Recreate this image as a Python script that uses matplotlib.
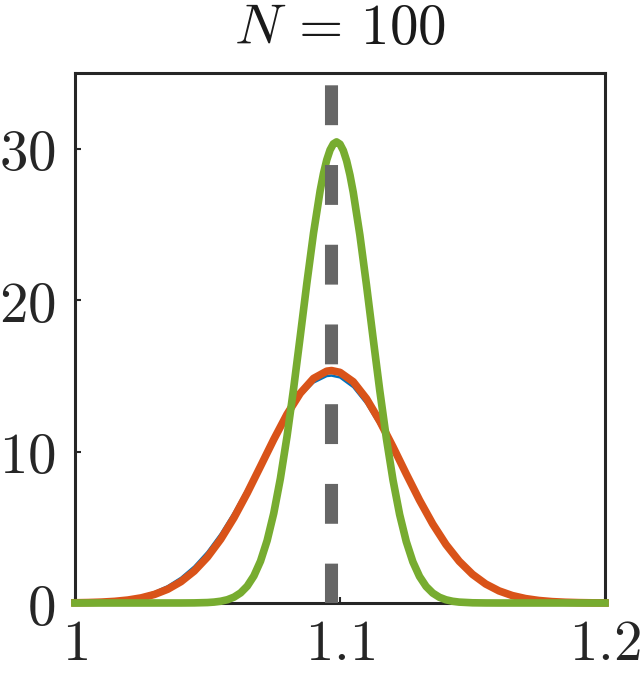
import numpy as np
import matplotlib
matplotlib.use('Agg')
import matplotlib.pyplot as plt

plt.rcParams['mathtext.fontset'] = 'cm'
plt.rcParams['lines.scale_dashes'] = False

# 数据：三条密度曲线
x_grid = [1.000, 1.005, 1.010, 1.015, 1.020, 1.025, 1.030, 1.035, 1.040, 1.045,
          1.050, 1.055, 1.060, 1.065, 1.070, 1.075, 1.080, 1.085, 1.090, 1.095,
          1.0968, 1.100, 1.105, 1.110, 1.115, 1.120, 1.125, 1.130, 1.135, 1.140,
          1.145, 1.150, 1.155, 1.160, 1.165, 1.170, 1.175, 1.180, 1.185, 1.190,
          1.195, 1.200]
blue_vals = [0.025, 0.048, 0.088, 0.156, 0.268, 0.446, 0.715, 1.108, 1.660, 2.405,
             3.368, 4.560, 5.969, 7.551, 9.230, 10.89, 12.42, 13.68, 14.56, 14.99,
             15.02, 14.90, 14.26, 13.17, 11.73, 10.09, 8.372, 6.705, 5.181, 3.863,
             2.781, 1.931, 1.294, 0.837, 0.522, 0.315, 0.183, 0.103, 0.056, 0.029,
             0.015, 0.007]
orange_vals = [0.015, 0.030, 0.058, 0.109, 0.196, 0.339, 0.566, 0.910, 1.412, 2.109,
               3.038, 4.215, 5.637, 7.265, 9.026, 10.80, 12.46, 13.85, 14.83, 15.31,
               15.35, 15.23, 14.61, 13.49, 12.01, 10.31, 8.524, 6.792, 5.216, 3.860,
               2.754, 1.893, 1.253, 0.800, 0.492, 0.292, 0.167, 0.092, 0.049, 0.025,
               0.012, 0.006]

x_green = [1.000, 1.020, 1.040, 1.045, 1.050, 1.0525, 1.055, 1.0575, 1.060, 1.0625,
           1.065, 1.0675, 1.070, 1.0725, 1.075, 1.0775, 1.080, 1.0825, 1.085, 1.0875,
           1.090, 1.0925, 1.09375, 1.095, 1.09625, 1.0975, 1.0987, 1.100, 1.10125,
           1.1025, 1.10375, 1.105, 1.1075, 1.110, 1.1125, 1.115, 1.1175, 1.120,
           1.1225, 1.125, 1.1275, 1.130, 1.1325, 1.135, 1.1375, 1.140, 1.1425, 1.145,
           1.150, 1.155, 1.160, 1.180, 1.200]
green_vals = [0.0, 0.0, 0.001, 0.007, 0.030, 0.061, 0.117, 0.216, 0.388, 0.669,
              1.113, 1.786, 2.762, 4.121, 5.926, 8.219, 10.99, 14.17, 17.62, 21.13,
              24.42, 27.22, 28.35, 29.26, 29.92, 30.32, 30.45, 30.30, 29.88,
              29.20, 28.27, 27.12, 24.30, 20.99, 17.48, 14.04, 10.87, 8.118,
              5.846, 4.059, 2.716, 1.754, 1.091, 0.655, 0.379, 0.211, 0.114, 0.059,
              0.014, 0.003, 0.0, 0.0, 0.0]

x_true = 1.0966   # 虚线位置
x_ticks = [1.0, 1.1, 1.2]
x_ticklabels = ['$1$', '$1.1$', '$1.2$']
y_ticks = [0, 10, 20, 30]
y_ticklabels = ['$0$', '$10$', '$20$', '$30$']

fig = plt.figure(figsize=(6.41, 6.73), dpi=100)
ax = fig.add_axes([75 / 641, 70 / 673, 530 / 641, 530 / 673])

ax.plot(x_grid, blue_vals, color='#0072BD', lw=1.8, zorder=3, clip_on=False)
ax.plot(x_grid, orange_vals, color='#D95319', lw=5.5, zorder=3, clip_on=False)
ax.plot(x_green, green_vals, color='#77AC30', lw=5.5, zorder=3, clip_on=False)

# 竖直虚线（灰色粗虚线）
ax.axvline(x_true, color='#666666', lw=9.4, dashes=(28.7, 28.7),
           solid_capstyle='butt', dash_capstyle='butt', zorder=4)

ax.set_xlim(1.0, 1.2)
ax.set_ylim(0, 35)
ax.set_xticks(x_ticks)
ax.set_xticklabels(x_ticklabels)
ax.set_yticks(y_ticks)
ax.set_yticklabels(y_ticklabels)
ax.tick_params(direction='in', length=4.5, width=1.5, colors='#262626',
               labelsize=41, labelcolor='#262626')
ax.tick_params(axis='x', pad=10)
ax.tick_params(axis='y', pad=14)

for sp in ax.spines.values():
    sp.set_linewidth(2.2)
    sp.set_color('#262626')

ax.set_title('$N\\,=\\,100$', fontsize=41, pad=21, color='#1a1a1a')

fig.savefig('out.png', dpi=100)
